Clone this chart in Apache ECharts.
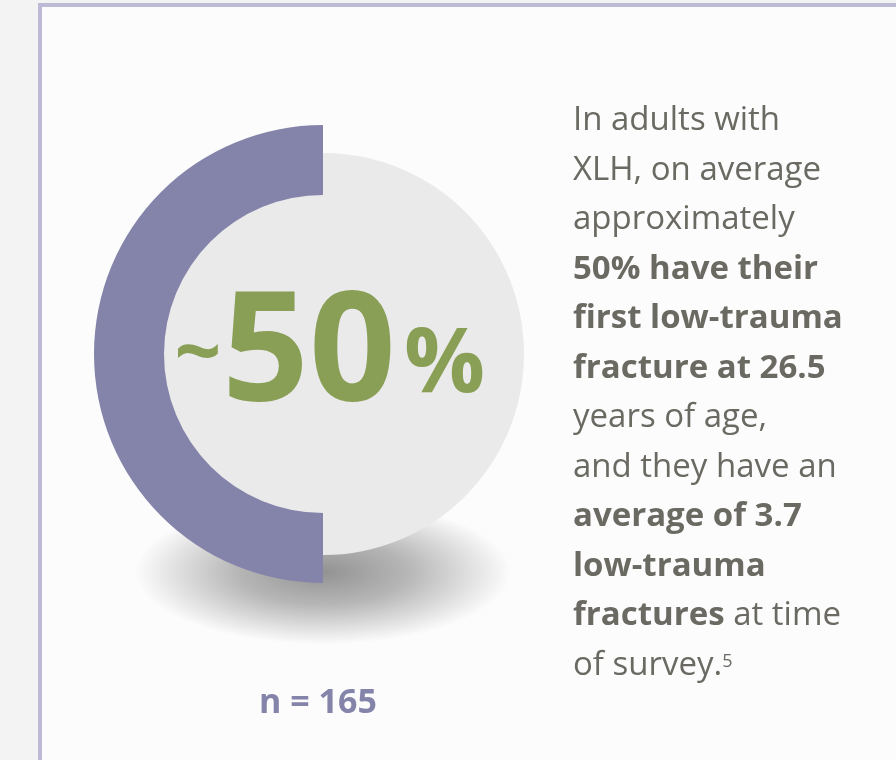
<!DOCTYPE html>
<html>
<head>
<meta charset="utf-8">
<script src="https://cdn.jsdelivr.net/npm/echarts@6/dist/echarts.min.js"></script>
<style>
  html, body { margin: 0; padding: 0; background: #f3f3f3; }
  #main { width: 896px; height: 760px; }
</style>
</head>
<body>
<div id="main"></div>
<script>
// share of adults with first low-trauma fracture at 26.5 (vs the rest)
var shareNames = ['First fracture at 26.5', 'Other']
var shareValues = [50, 50]
var sampleSize = 165

// text beside the ring, line by line ([style, text] pieces)
var noteLines = [
  [['r', 'In adults with']],
  [['r', 'XLH, on average']],
  [['r', 'approximately']],
  [['b', '50% have their']],
  [['b', 'first low-trauma']],
  [['b', 'fracture at 26.5']],
  [['r', 'years of age,']],
  [['r', 'and they have an']],
  [['b', 'average of 3.7']],
  [['b', 'low-trauma']],
  [['b', 'fractures'], ['r', ' at time']],
  [['r', 'of survey.'], ['s', '5']]
]

var purple = '#8484ab'
var green = '#8a9f56'
var textGray = '#6a6962'
var font = '"Open Sans", sans-serif'
var cx = 323
var cy = 354

var noteText = noteLines.map(function(line) {
  return line.map(function(p) { return '{' + p[0] + '|' + p[1] + '}' }).join('')
}).join('\n')

var chart = echarts.init(document.getElementById('main'))
chart.setOption({
  backgroundColor: '#f3f3f3',
  animation: false,
  graphic: [
    // panel
    {
      type: 'rect', z: 0,
      shape: { x: 40, y: 5, width: 900, height: 800 },
      style: { fill: '#fcfcfc', stroke: '#bdbad6', lineWidth: 4 }
    },
    // soft shadow under the disk
    {
      type: 'circle', z: 1, x: cx, y: 572, scaleY: 0.385,
      shape: { cx: 0, cy: 0, r: 188 },
      style: {
        fill: {
          type: 'radial', x: 0.5, y: 0.5, r: 0.5,
          colorStops: [
            { offset: 0, color: 'rgba(0,0,0,0.42)' },
            { offset: 0.45, color: 'rgba(0,0,0,0.28)' },
            { offset: 1, color: 'rgba(0,0,0,0)' }
          ]
        }
      }
    },
    // big percentage
    {
      type: 'text', z: 20, x: 198, y: 357,
      style: { text: '~', font: 'bold 82px ' + font, fill: green, align: 'center', verticalAlign: 'middle' }
    },
    {
      type: 'text', z: 20, x: 222, y: 358,
      style: { text: String(shareValues[0]), font: 'bold 152px ' + font, fill: green, align: 'left', verticalAlign: 'middle' }
    },
    {
      type: 'text', z: 20, x: 404, y: 366,
      style: { text: '%', font: 'bold 90px ' + font, fill: green, align: 'left', verticalAlign: 'middle' }
    },
    // sample size
    {
      type: 'text', z: 20, x: 318, y: 703,
      style: { text: 'n = ' + sampleSize, font: 'bold 34px ' + font, fill: purple, align: 'center', verticalAlign: 'middle' }
    },
    // note
    {
      type: 'text', z: 20, x: 573, y: 96,
      style: {
        text: noteText,
        font: '33px ' + font,
        fill: textGray,
        align: 'left',
        verticalAlign: 'top',
        rich: {
          r: { fontFamily: font, fontSize: 33, fontWeight: 'normal', color: textGray, lineHeight: 49.5 },
          b: { fontFamily: font, fontSize: 33, fontWeight: 'bold', color: textGray, lineHeight: 49.5 },
          s: { fontFamily: font, fontSize: 18, fontWeight: 'normal', color: textGray, lineHeight: 18, verticalAlign: 'middle', padding: [0, 0, 6, 0] }
        }
      }
    }
  ],
  series: [
    {
      // light disk behind the ring
      type: 'pie', z: 3, silent: true,
      center: [cx, cy], radius: [0, 201],
      label: { show: false }, labelLine: { show: false },
      emphasis: { disabled: true },
      itemStyle: { color: '#eaeaea' },
      data: [{ name: 'disk', value: 100 }]
    },
    {
      type: 'pie', z: 4, silent: true,
      center: [cx, cy], radius: [159, 229],
      startAngle: 90, clockwise: false,
      label: { show: false }, labelLine: { show: false },
      emphasis: { disabled: true },
      data: shareNames.map(function(n, i) {
        return {
          name: n,
          value: shareValues[i],
          itemStyle: { color: i === 0 ? purple : 'rgba(0,0,0,0)' }
        }
      })
    }
  ]
})
</script>
</body>
</html>
